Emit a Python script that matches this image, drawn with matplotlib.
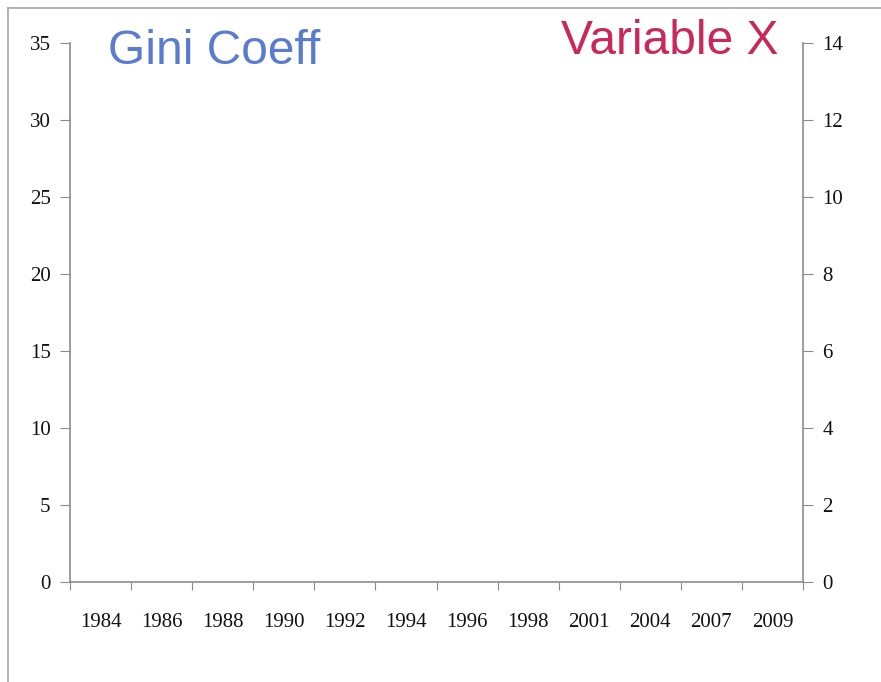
import matplotlib
matplotlib.use("Agg")
import matplotlib.pyplot as plt
from matplotlib.lines import Line2D

# Data (chart shows no plotted series)
years = ["1984", "1986", "1988", "1990", "1992", "1994",
         "1996", "1998", "2001", "2004", "2007", "2009"]
gini_ticks = [0, 5, 10, 15, 20, 25, 30, 35]
varx_ticks = [0, 2, 4, 6, 8, 10, 12, 14]
left_title = "Gini Coeff"
right_title = "Variable X"

W, H = 881, 682
fig = plt.figure(figsize=(W / 100, H / 100), dpi=100)
fig.patch.set_facecolor("white")

# outer frame (top and left edges)
fig.add_artist(Line2D([8 / W, 8 / W], [0, 1 - 8 / H], color="#a6a6a6", lw=1.2,
                      transform=fig.transFigure))
fig.add_artist(Line2D([8 / W, 1], [1 - 8 / H, 1 - 8 / H], color="#a6a6a6", lw=1.2,
                      transform=fig.transFigure))

x0, x1 = 70, 803
y_top, y_bot = 43, 582
ax = fig.add_axes([x0 / W, 1 - y_bot / H, (x1 - x0) / W, (y_bot - y_top) / H])
ax2 = ax.twinx()

n = len(years)
ax.set_xlim(0, n)
ax.set_ylim(0, 35)
ax2.set_ylim(0, 14)

axis_col = "#8c8c8c"
tick_font = dict(family="Liberation Serif", size=15, color="#111111")

ax.set_xticks(range(n + 1))
ax.set_xticklabels([])
ax.set_xticks([i + 0.5 for i in range(n)], minor=True)
ax.set_xticklabels(years, minor=True, fontdict=tick_font)
ax.tick_params(axis="x", which="major", length=6, color=axis_col, direction="out")
ax.tick_params(axis="x", which="minor", length=0, pad=22)

ax.set_yticks(gini_ticks)
ax.set_yticklabels([str(v) for v in gini_ticks], fontdict=tick_font)
ax.tick_params(axis="y", length=7, color=axis_col, pad=7)

ax2.set_yticks(varx_ticks)
ax2.set_yticklabels([str(v) for v in varx_ticks], fontdict=tick_font)
ax2.tick_params(axis="y", length=7, color=axis_col, pad=7)

for a in (ax, ax2):
    a.spines["top"].set_visible(False)
    for s in ("left", "right", "bottom"):
        a.spines[s].set_color(axis_col)
        a.spines[s].set_linewidth(1.2)
ax.spines["right"].set_visible(False)
ax2.spines["left"].set_visible(False)
ax2.spines["bottom"].set_visible(False)

fig.text(108 / W, 1 - 51 / H, left_title, color="#5b7bcf", fontsize=34.5,
         family="Liberation Sans", ha="left", va="center")
fig.text(778 / W, 1 - 42 / H, right_title, color="#c8285a", fontsize=34.5,
         family="Liberation Sans", ha="right", va="center")

fig.savefig("out.png", dpi=100, facecolor="white")
